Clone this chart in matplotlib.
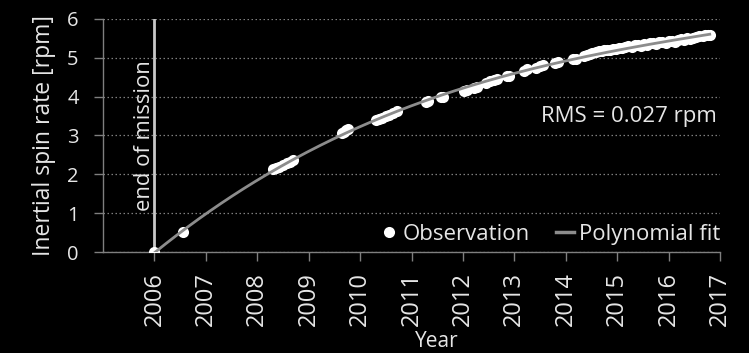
import numpy as np
import matplotlib
matplotlib.use("Agg")
import matplotlib.pyplot as plt
from matplotlib.lines import Line2D

plt.rcParams['font.family'] = ['Open Sans', 'DejaVu Sans']

# Observed inertial spin rate (decimal year, rpm)
obs_year = [
    2006.00, 2006.55,
    2008.30, 2008.36, 2008.42, 2008.50, 2008.58, 2008.64, 2008.70,
    2009.64, 2009.68, 2009.72, 2009.77,
    2010.30, 2010.36, 2010.42, 2010.50, 2010.57, 2010.64, 2010.72,
    2011.28, 2011.32, 2011.58, 2011.62,
    2012.02, 2012.07, 2012.22, 2012.28, 2012.44, 2012.52, 2012.60, 2012.66,
    2012.86, 2012.90,
    2013.18, 2013.24, 2013.42, 2013.50, 2013.56, 2013.80, 2013.84,
    2014.15, 2014.20, 2014.35, 2014.42, 2014.47, 2014.52, 2014.58, 2014.64,
    2014.70, 2014.75, 2014.80, 2014.86, 2014.92, 2014.98, 2015.04, 2015.10,
    2015.16, 2015.22, 2015.28, 2015.34, 2015.40, 2015.46, 2015.52, 2015.58,
    2015.64, 2015.70, 2015.76, 2015.82, 2015.88, 2015.94, 2016.00, 2016.06,
    2016.12, 2016.18, 2016.24, 2016.30, 2016.36, 2016.42, 2016.48, 2016.54,
    2016.60, 2016.66, 2016.71, 2016.76, 2016.80,
]
obs_rate = [
    0.00, 0.52,
    2.13, 2.17, 2.20, 2.25, 2.29, 2.33, 2.37,
    3.06, 3.10, 3.14, 3.18,
    3.39, 3.42, 3.46, 3.50, 3.54, 3.58, 3.63,
    3.86, 3.88, 3.98, 4.00,
    4.15, 4.17, 4.23, 4.26, 4.36, 4.40, 4.43, 4.46,
    4.52, 4.54,
    4.67, 4.70, 4.75, 4.78, 4.81, 4.87, 4.89,
    4.96, 4.97, 5.04, 5.07, 5.10, 5.12, 5.15, 5.17,
    5.18, 5.19, 5.21, 5.20, 5.23, 5.22, 5.25, 5.26,
    5.27, 5.30, 5.29, 5.32, 5.33, 5.31, 5.35, 5.34,
    5.37, 5.38, 5.36, 5.40, 5.41, 5.39, 5.43, 5.44,
    5.42, 5.46, 5.48, 5.47, 5.50, 5.49, 5.52, 5.54,
    5.55, 5.57, 5.58, 5.60, 5.59,
]

year_ticks = list(range(2006, 2018))
rate_ticks = [0, 1, 2, 3, 4, 5, 6]
mission_end = 2006
rms_label = "RMS = 0.027 rpm"

grey = '#8c8c8c'
axis_grey = '#7f7f7f'
txt = '#e6e6e6'

fig = plt.figure(figsize=(7.49, 3.53), dpi=100, facecolor='black')
ax = fig.add_axes([0.1375, 0.2861, 0.8238, 0.6601], facecolor='black')

# polynomial fit; each observation is weighted by the inverse of the
# sampling density around it so that every epoch counts about equally
yr = np.asarray(obs_year)
rt = np.asarray(obs_rate)
density = np.array([np.sum(np.abs(yr - y) < 0.5) for y in yr])
coef = np.polyfit(yr - 2006, rt, 3, w=1.0 / density)
fit_x = np.linspace(yr.min(), yr.max(), 300)
fit_y = np.polyval(coef, fit_x - 2006)

ax.axvline(mission_end, color='#c8c8c8', lw=2.0, zorder=2)
ax.text(mission_end - 0.2, 3.0, "end of mission", rotation=90, color=txt,
        fontsize=15.8, ha='center', va='center')

ax.plot(yr, rt, 'o', color='white', markersize=8,
        markeredgewidth=0, zorder=3)
ax.plot(fit_x, fit_y, color=grey, lw=2.0, zorder=4)

ax.set_xlim(2005, 2017)
ax.set_ylim(0, 6)
ax.set_xticks(year_ticks)
ax.set_xticklabels([str(y) for y in year_ticks], rotation=90)
ax.set_yticks(rate_ticks)

ax.grid(axis='y', color=axis_grey, linestyle=(0, (1.2, 2)), lw=0.9)
ax.set_axisbelow(True)
for s in ('top', 'right'):
    ax.spines[s].set_visible(False)
for s in ('left', 'bottom'):
    ax.spines[s].set_color(axis_grey)
    ax.spines[s].set_linewidth(1.0)

ax.tick_params(axis='both', colors=axis_grey, labelcolor=txt,
               length=6.5, width=1.0)
ax.tick_params(axis='x', pad=8, labelsize=17)
ax.tick_params(axis='y', pad=11, labelsize=14.5)

ax.set_ylabel("Inertial spin rate [rpm]", color=txt, fontsize=16.5, labelpad=8)
fig.text(437 / 749, 1 / 353, "Year", color=txt, fontsize=15,
         ha='center', va='bottom')

ax.text(0.995, 0.58, rms_label, transform=ax.transAxes, color=txt,
        fontsize=16, ha='right', va='center')

handles = [
    Line2D([], [], marker='o', linestyle='none', color='white',
           markersize=8, markeredgewidth=0),
    Line2D([], [], color=grey, lw=2.5),
]
leg = ax.legend(handles, ["Observation", "Polynomial fit"], loc='lower right',
                bbox_to_anchor=(1.0, 0.03), ncol=2, frameon=False,
                fontsize=16, handlelength=0.8, handletextpad=0.2,
                columnspacing=1.2, borderpad=0, borderaxespad=0)
for t in leg.get_texts():
    t.set_color(txt)

fig.savefig("out.png", dpi=100, facecolor='black')
